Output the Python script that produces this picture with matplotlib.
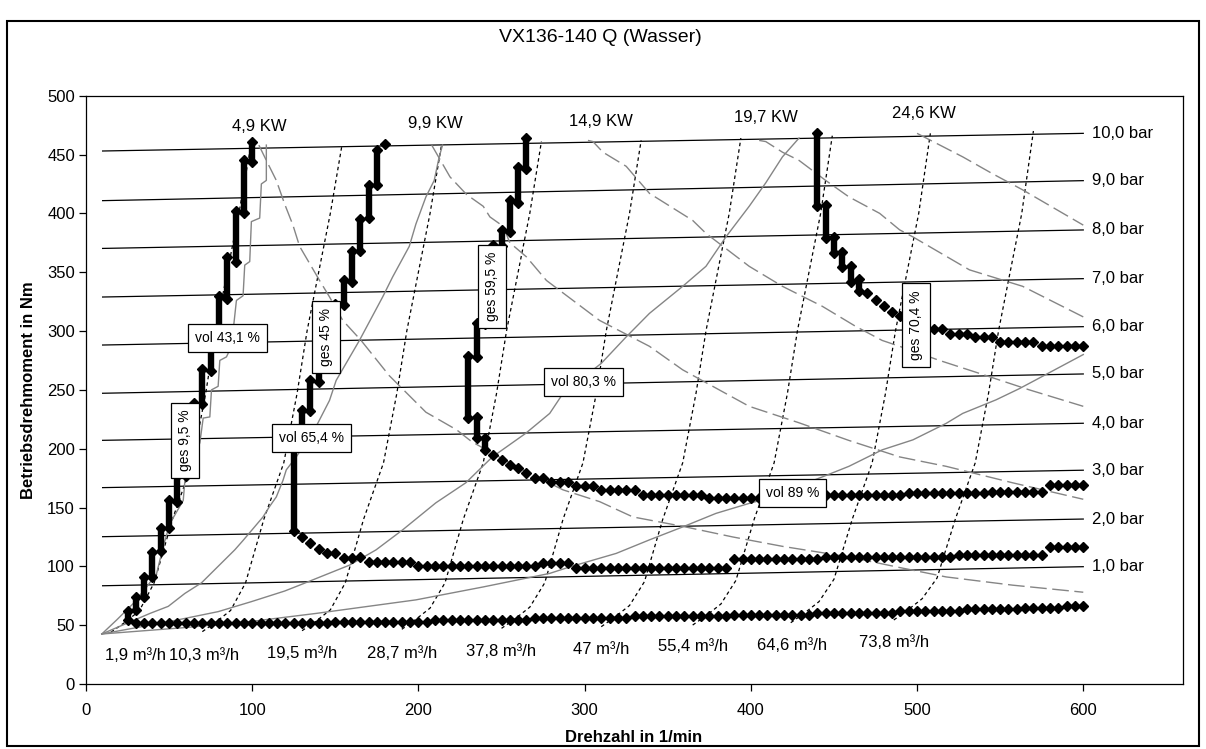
import matplotlib
matplotlib.use('Agg')
import matplotlib.pyplot as plt
import numpy as np
from matplotlib.patches import Rectangle

plt.rcParams['font.family'] = ['Liberation Sans', 'DejaVu Sans']

# Drucklinien (bar)
bar_labels = ['1,0 bar', '2,0 bar', '3,0 bar', '4,0 bar', '5,0 bar',
              '6,0 bar', '7,0 bar', '8,0 bar', '9,0 bar', '10,0 bar']
bar_x = [10, 600]
bar_left = [83.5, 125.2, 166.9, 207.1, 247.1, 288.1, 328.9, 370.2, 410.8, 453]
bar_right = [99.7, 140.2, 181.7, 221.6, 263.5, 303.7, 344.5, 385.9, 427.8, 468]

# Volumenstrom-Linien (gepunktet)
flow_labels = ['1,9 m³/h', '10,3 m³/h', '19,5 m³/h', '28,7 m³/h', '37,8 m³/h',
               '47 m³/h', '55,4 m³/h', '64,6 m³/h', '73,8 m³/h']
flow_label_x = [30, 71, 130, 190, 250, 310, 365, 425, 486]
flow_label_y = [24, 24, 26, 26, 27.5, 29.5, 31.5, 32.5, 35]
flow_x = [
    [15, 23, 32, 41, 52, 64, 72, 78, 84, 92, 99],
    [70, 78, 87, 96, 107, 119, 127, 133, 139, 147, 154],
    [130, 138, 147, 156, 167, 179, 187, 193, 199, 207, 214],
    [190, 198, 207, 216, 227, 239, 247, 253, 259, 267, 274],
    [250, 258, 267, 276, 287, 299, 307, 313, 319, 327, 334],
    [310, 318, 327, 336, 347, 359, 367, 373, 379, 387, 394],
    [365, 373, 382, 391, 402, 414, 422, 428, 434, 442, 449],
    [424, 432, 441, 450, 461, 473, 481, 487, 493, 501, 508],
    [486, 494, 503, 512, 523, 535, 543, 549, 555, 563, 570],
]
flow_y = [
    [44, 52, 62, 86, 140, 188, 247, 300, 343, 400, 456],
    [44.5, 52.5, 62.5, 86, 140, 188, 247, 300, 343, 400, 458],
    [45.3, 53, 63, 86, 140, 188, 247, 300, 343, 400, 459],
    [46.5, 54.5, 64.5, 86, 140, 188, 247, 300, 343, 400, 461],
    [47.3, 55.3, 65.3, 86, 140, 188, 247, 300, 343, 400, 462],
    [48.7, 56.7, 66.7, 87, 140, 188, 247, 300, 343, 400, 464],
    [50.1, 58, 68, 88, 140, 188, 247, 300, 343, 400, 466],
    [52.1, 60, 70, 89, 140, 188, 247, 300, 343, 400, 468],
    [54.4, 62.4, 72.4, 90, 140, 188, 247, 300, 343, 400, 470],
]

# Leistungslinien (KW), grau gestrichelt
kw_labels = ['4,9 KW', '9,9 KW', '14,9 KW', '19,7 KW', '24,6 KW']
kw_label_x = [104, 210, 310, 409, 504]
kw_label_y = [473.5, 476.5, 478, 481.5, 485]
kw49_x = [104, 108.5, 114.5, 119.5, 124.5, 128.5, 140.5, 146.5, 154.5, 165.5, 182.5, 204.5,
          223, 232, 260, 287, 309, 329, 359, 389, 419, 459, 489.5, 517.5, 557.5, 600]
kw49_y = [458, 445, 428, 408, 390, 372, 343, 329, 309, 292, 262, 231,
          216, 206, 184, 165, 155, 142, 134, 125, 117, 108, 99, 91, 84, 78]
kw99_x = [208, 219, 229, 239, 243, 251, 255, 265, 277, 309, 339, 359, 399, 429, 459,
          489.5, 517.5, 557.5, 600]
kw99_y = [458, 431, 416, 406, 397, 389, 375, 363, 343, 309, 287, 267, 236, 222, 207,
          193, 185, 171, 157]
kw149_x = [302, 305, 311, 325, 339, 365, 373, 399, 419, 443, 463, 479, 489.5, 513.5,
           537.5, 567.5, 600]
kw149_y = [462, 461, 452, 440, 417, 394, 383, 355, 338, 321, 304, 292, 287, 275,
           264, 250, 236]
kw197_x = [405, 409, 419, 429, 445, 459, 477.5, 489.5, 497.5, 531.5, 563.5, 600]
kw197_y = [462, 461, 452, 445, 428, 414, 400, 386, 380, 352, 338, 312]
kw246_x = [500, 527.5, 545, 563.5, 600]
kw246_y = [468, 448, 434, 420, 390]

# Volumetrischer Wirkungsgrad, grau durchgezogen
vol431_x = [9.5, 18.5, 28.5, 36.5, 42.5, 46.5, 50.5, 58.5, 59.5, 68.5, 70.5, 74.5, 75.5,
            79.5, 80.5, 84.5, 85.5, 88.5, 90.5, 94.5, 95.5, 98.5, 99.5, 104.5, 105.5,
            108.5, 108.5]
vol431_y = [42.5, 54.5, 68.5, 82.5, 94, 117, 136.5, 156, 173, 205, 226, 227, 250,
            253, 275, 278, 281, 300, 326, 330, 356, 359, 393, 396, 425, 428, 458]
vol654_x = [9.5, 38.5, 49.5, 59.5, 69.5, 79.5, 89.5, 94.5, 106.5, 110.5, 114.5, 118.5,
            120.5, 126.5, 138.5, 146.5, 150.5, 164.5, 178.5, 184.5, 194.5, 198.5, 204.5,
            209.5, 212.5, 214.5]
vol654_y = [42.5, 60, 66, 77, 86, 100, 114, 122, 142, 151, 159, 173, 182, 193, 219,
            241, 258, 292, 329, 346, 372, 391, 414, 428, 448, 458]
vol803_x = [9.5, 50, 79.5, 99.5, 119.5, 128.5, 158.5, 174.5, 190.5, 210.5, 228.5, 244.5,
            264.5, 279, 287, 310, 325, 339, 359, 373, 385, 399, 409, 419, 429]
vol803_y = [42.5, 53, 61.5, 70, 79, 84, 101, 114, 131, 154, 171, 193, 213, 230, 247,
            272.5, 295, 315, 338, 355, 380, 406, 426, 448, 464]
vol89_x = [9.5, 60, 98.5, 138.5, 198.5, 239, 279, 291, 319, 339, 359, 379, 399, 407,
           443, 459, 479, 497.5, 517.5, 527.5, 547.5, 561.5, 571.5, 600]
vol89_y = [42.5, 48, 53, 60, 71.5, 82.5, 94, 99.5, 111, 122.5, 133.5, 145, 153.5, 156.5,
           176, 185, 199, 207.5, 221.5, 230, 241.5, 251, 258.5, 280]

# Gesamtwirkungsgrad (Rauten): steile Aeste als Punktsaeulen (x, von, bis),
# flache Aeste als Stufen (Startdrehzahl, Moment), Raster 5 1/min
ges95_col_x = [25, 30, 35, 40, 45, 50, 55, 60, 65, 70, 75, 80, 85, 90, 95, 100]
ges95_col_lo = [54, 63, 74, 91, 113, 133, 155, 177, 208, 238, 266, 302, 327, 359, 400, 444]
ges95_col_hi = [62, 74, 91, 112, 133, 156, 177, 209, 239, 268, 302, 330, 363, 402, 445, 461]
ges95_pt_x = []
ges95_pt_y = []
ges95_flat_start = [30, 150, 210, 270, 330, 390, 440, 490, 530, 565, 590]
ges95_flat_level = [51.5, 53, 54.5, 56, 57.5, 59, 60.5, 62, 63.5, 65, 66.5]

ges45_col_x = [125, 130, 135, 140, 145, 150, 155, 160, 165, 170, 175]
ges45_col_lo = [130, 216, 232, 257, 275, 299, 322, 342, 368, 396, 424]
ges45_col_hi = [216, 233, 258, 276, 300, 323, 343, 368, 395, 424, 454]
ges45_pt_x = [180, 130, 135, 140, 145, 150, 155, 160, 165]
ges45_pt_y = [459, 125, 120, 115, 111, 111, 107, 107, 108]
ges45_flat_start = [170, 200, 275, 295, 390, 445, 525, 580]
ges45_flat_level = [103.5, 100.5, 102.5, 99, 106, 108, 110, 116.5]

ges595_col_x = [240, 235, 230, 235, 240, 245, 250, 255, 260, 265]
ges595_col_lo = [199, 209, 226, 278, 306, 339, 372, 384, 409, 438]
ges595_col_hi = [209, 227, 279, 307, 340, 373, 386, 411, 439, 464]
ges595_pt_x = [245, 250, 255, 260, 265, 270, 275]
ges595_pt_y = [194.5, 190.5, 186, 183.5, 179, 175, 175]
ges595_flat_start = [280, 295, 310, 335, 375, 410, 495, 545, 580]
ges595_flat_level = [171.5, 168, 164.5, 160.5, 158, 160.5, 162, 163.5, 169.5]

ges704_col_x = [440, 445, 450, 455, 460, 465]
ges704_col_lo = [406, 379, 366, 354, 342, 334]
ges704_col_hi = [468, 407, 380, 367, 355, 344]
ges704_pt_x = [470, 475, 480, 485, 490, 495, 500, 505]
ges704_pt_y = [332, 326, 321, 316.5, 312.5, 309, 306, 303.5]
ges704_flat_start = [510, 520, 535, 550, 575]
ges704_flat_level = [301.5, 297.5, 294.5, 291, 287.5]

# Beschriftungen in Kaesten
box_texts = ['vol 43,1 %', 'ges 9,5 %', 'ges 45 %', 'vol 65,4 %',
             'ges 59,5 %', 'vol 80,3 %', 'vol 89 %', 'ges 70,4 %']
box_x = [85, 59.5, 144.5, 135.5, 244.5, 299.5, 425, 499.5]
box_y = [294, 207, 295, 209, 338, 257, 162, 305]
box_rot = [0, 90, 90, 0, 90, 0, 0, 90]

W, H = 1206, 749
fig = plt.figure(figsize=(W / 100, H / 100), dpi=100)
ax = fig.add_axes([86 / W, 65 / H, 1097 / W, 588.3 / H])

GRAY = '#858585'

for lo, hi in zip(bar_left, bar_right):
    ax.plot(bar_x, [lo, hi], color='black', lw=0.9, zorder=2)
for lab, hi in zip(bar_labels, bar_right):
    ax.text(605, hi, lab, ha='left', va='center', fontsize=12)

for xs, ys in zip(flow_x, flow_y):
    ax.plot(xs, ys, color='black', lw=0.9, linestyle=(0, (2.8, 2.5)), zorder=2)
for lab, x, y in zip(flow_labels, flow_label_x, flow_label_y):
    ax.text(x, y, lab, ha='center', va='center', fontsize=12)

for xs, ys in [(kw49_x, kw49_y), (kw99_x, kw99_y), (kw149_x, kw149_y),
               (kw197_x, kw197_y), (kw246_x, kw246_y)]:
    ax.plot(xs, ys, color=GRAY, lw=1.0, linestyle=(0, (12, 4)), zorder=3)
for lab, x, y in zip(kw_labels, kw_label_x, kw_label_y):
    ax.text(x, y, lab, ha='center', va='center', fontsize=12)

for xs, ys in [(vol431_x, vol431_y), (vol654_x, vol654_y),
               (vol803_x, vol803_y), (vol89_x, vol89_y)]:
    ax.plot(xs, ys, color=GRAY, lw=1.0, zorder=3)

series = [
    (ges95_col_x, ges95_col_lo, ges95_col_hi, ges95_pt_x, ges95_pt_y, ges95_flat_start, ges95_flat_level),
    (ges45_col_x, ges45_col_lo, ges45_col_hi, ges45_pt_x, ges45_pt_y, ges45_flat_start, ges45_flat_level),
    (ges595_col_x, ges595_col_lo, ges595_col_hi, ges595_pt_x, ges595_pt_y, ges595_flat_start, ges595_flat_level),
    (ges704_col_x, ges704_col_lo, ges704_col_hi, ges704_pt_x, ges704_pt_y, ges704_flat_start, ges704_flat_level),
]
MS = 4.6
for cx, clo, chi, px, py, fs, fl in series:
    ax.vlines(cx, clo, chi, color='black', lw=4.6, zorder=4)
    ax.plot(cx + cx, clo + chi, 'D', color='black', ms=MS, zorder=4)
    ax.plot(px, py, 'D', color='black', ms=MS, zorder=4)
    ends = fs[1:] + [605]
    for s, e, lvl in zip(fs, ends, fl):
        xs = np.arange(s, e, 5)
        ax.plot(xs, np.full(len(xs), lvl), 'D', color='black', ms=MS, zorder=4)

for t, x, y, r in zip(box_texts, box_x, box_y, box_rot):
    ax.text(x, y, t, ha='center', va='center', rotation=r, fontsize=10, zorder=6,
            bbox=dict(boxstyle='square,pad=0.5', fc='white', ec='black', lw=0.9))

ax.set_xlim(0, 660)
ax.set_ylim(0, 500)
ax.set_xticks(range(0, 601, 100))
ax.set_yticks(range(0, 501, 50))
ax.tick_params(axis='both', direction='out', length=5, width=0.9, labelsize=12)
ax.tick_params(axis='x', pad=9)
ax.tick_params(axis='y', pad=3)
for sp in ax.spines.values():
    sp.set_linewidth(0.9)

fig.text(600 / W, 1 - 38 / H, 'VX136-140 Q (Wasser)', ha='center', va='center', fontsize=14)
fig.text(634 / W, 1 - 738 / H, 'Drehzahl in 1/min', ha='center', va='center',
         fontsize=12, fontweight='bold')
fig.text(28.5 / W, 1 - 390 / H, 'Betriebsdrehmoment in Nm', ha='center', va='center',
         rotation=90, fontsize=12, fontweight='bold')

fig.patches.append(Rectangle((7 / W, 3 / H), 1192 / W, 725 / H, transform=fig.transFigure,
                             fill=False, ec='black', lw=1.5))

fig.savefig('out.png', dpi=100)
